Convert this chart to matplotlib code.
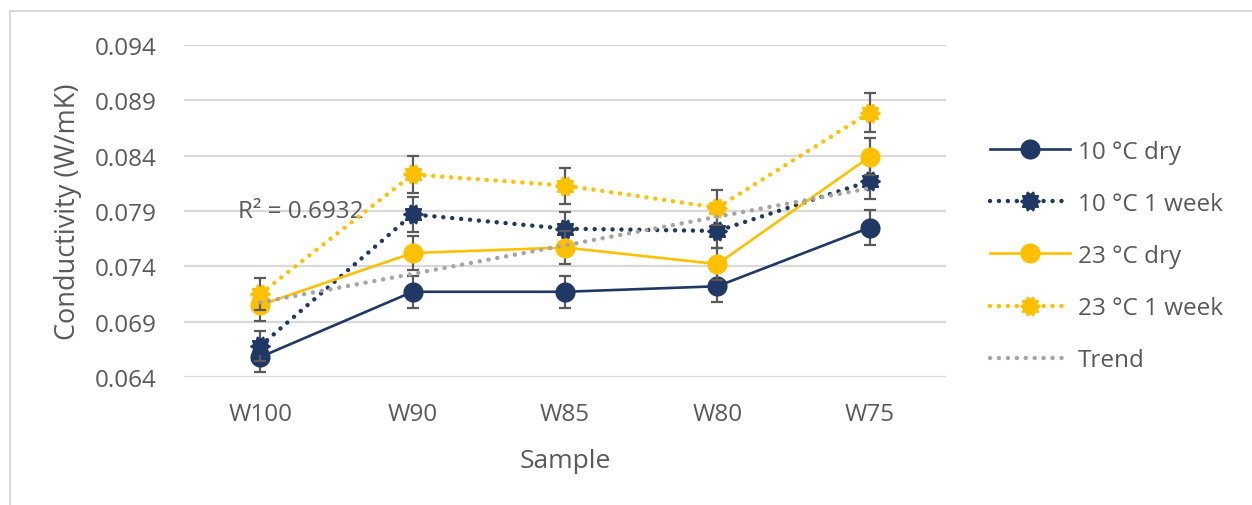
import numpy as np
import matplotlib
matplotlib.use("Agg")
import matplotlib.pyplot as plt
from matplotlib.path import Path
from matplotlib.lines import Line2D

plt.rcParams['font.family'] = ['Open Sans', 'DejaVu Sans']

###
# Data
###
samples = ["W100", "W90", "W85", "W80", "W75"]

dry_10 = [0.0658, 0.0717, 0.0717, 0.0722, 0.0775]
week_10 = [0.0668, 0.0787, 0.0774, 0.0772, 0.0817]
dry_23 = [0.0705, 0.0752, 0.0757, 0.0742, 0.0839]
week_23 = [0.0715, 0.0823, 0.0813, 0.0793, 0.0879]

# error bar half-widths (W/mK)
err_dry_10 = [0.00132, 0.00143, 0.00143, 0.00144, 0.00155]
err_week_10 = [0.00134, 0.00157, 0.00155, 0.00154, 0.00163]
err_dry_23 = [0.00141, 0.00150, 0.00151, 0.00148, 0.00168]
err_week_23 = [0.00143, 0.00165, 0.00163, 0.00159, 0.00176]

y_ticks = [0.064, 0.069, 0.074, 0.079, 0.084, 0.089, 0.094]
r2_text = "R² = 0.6932"

NAVY = "#203864"
GOLD = "#FFC000"
GREY = "#A5A5A5"
TXT = "#595959"
GRID = "#D9D9D9"

# bumpy circle marker for the soaked samples
th = np.linspace(0, 2 * np.pi, 121)
r = 1 + 0.13 * np.cos(10 * th)
bump = Path(np.column_stack([r * np.cos(th), r * np.sin(th)]))

###
# Plot
###
fig = plt.figure(figsize=(12.52, 5.06), dpi=100)
ax = fig.add_axes([184 / 1252, 1 - 378 / 506, 762 / 1252, 332 / 506])

x = np.arange(len(samples))
dot = (0, (0.01, 2.0))

series = [
    ("10 °C dry", dry_10, err_dry_10, NAVY, "-", "o", 14.5, 1.9),
    ("10 °C 1 week", week_10, err_week_10, NAVY, dot, bump, 15, 3.2),
    ("23 °C dry", dry_23, err_dry_23, GOLD, "-", "o", 14.5, 1.9),
    ("23 °C 1 week", week_23, err_week_23, GOLD, dot, bump, 15, 3.2),
]

handles = []
for i, (lab, vals, err, col, ls, mk, ms, lw) in enumerate(series):
    ax.errorbar(x, vals, yerr=err, fmt="none", ecolor="#5A5A5A",
                elinewidth=1.6, capsize=4.5, capthick=1.6, zorder=2 + i)
    ln, = ax.plot(x, vals, color=col, linestyle=ls, linewidth=lw,
                  marker=mk, markersize=ms, markeredgewidth=0,
                  dash_capstyle="round", zorder=2.5 + i, label=lab)
    handles.append(ln)

# linear trend on the 23 °C dry series
coef = np.polyfit(x, dry_23, 1)
xt = np.array([x[0], x[-1]])
tr, = ax.plot(xt, np.polyval(coef, xt), color=GREY, linestyle=(0, (0.01, 2.0)),
              linewidth=3.2, dash_capstyle="round", zorder=10, label="Trend")
handles.append(tr)

ax.text(-0.145, 0.0790, r2_text, color=TXT, fontsize=17.5, va="center",
        ha="left", zorder=1)

###
# Formatting
###
ax.set_xlim(-0.5, len(samples) - 0.5)
ax.set_ylim(0.064, 0.094)
ax.set_xticks(x)
ax.set_xticklabels(samples)
ax.set_yticks(y_ticks)
ax.set_yticklabels([f"{v:.3f}" for v in y_ticks])
ax.grid(axis="y", color=GRID, linewidth=1.6)
ax.set_axisbelow(True)
for s in ax.spines.values():
    s.set_visible(False)
ax.tick_params(length=0, labelsize=17.5, labelcolor=TXT)
ax.tick_params(axis="y", pad=20)
ax.tick_params(axis="x", pad=18)
ax.set_xlabel("Sample", fontsize=19, color=TXT, labelpad=16)
ax.set_ylabel("Conductivity (W/mK)", fontsize=19.5, color=TXT, labelpad=9)

fig.legend(handles=handles, loc="center left",
           bbox_to_anchor=(978 / 1252, 1 - 257 / 506), frameon=False,
           fontsize=17.5, labelcolor=TXT, handlelength=3.3,
           handletextpad=0.3, labelspacing=1.16, borderpad=0)

# chart area outline
fig.add_artist(Line2D([10 / 1252, 10 / 1252], [0, 1 - 12 / 506],
                      color=GRID, linewidth=1.5))
fig.add_artist(Line2D([10 / 1252, 1], [1 - 12 / 506, 1 - 12 / 506],
                      color=GRID, linewidth=1.5))

plt.savefig("out.png", dpi=100)
